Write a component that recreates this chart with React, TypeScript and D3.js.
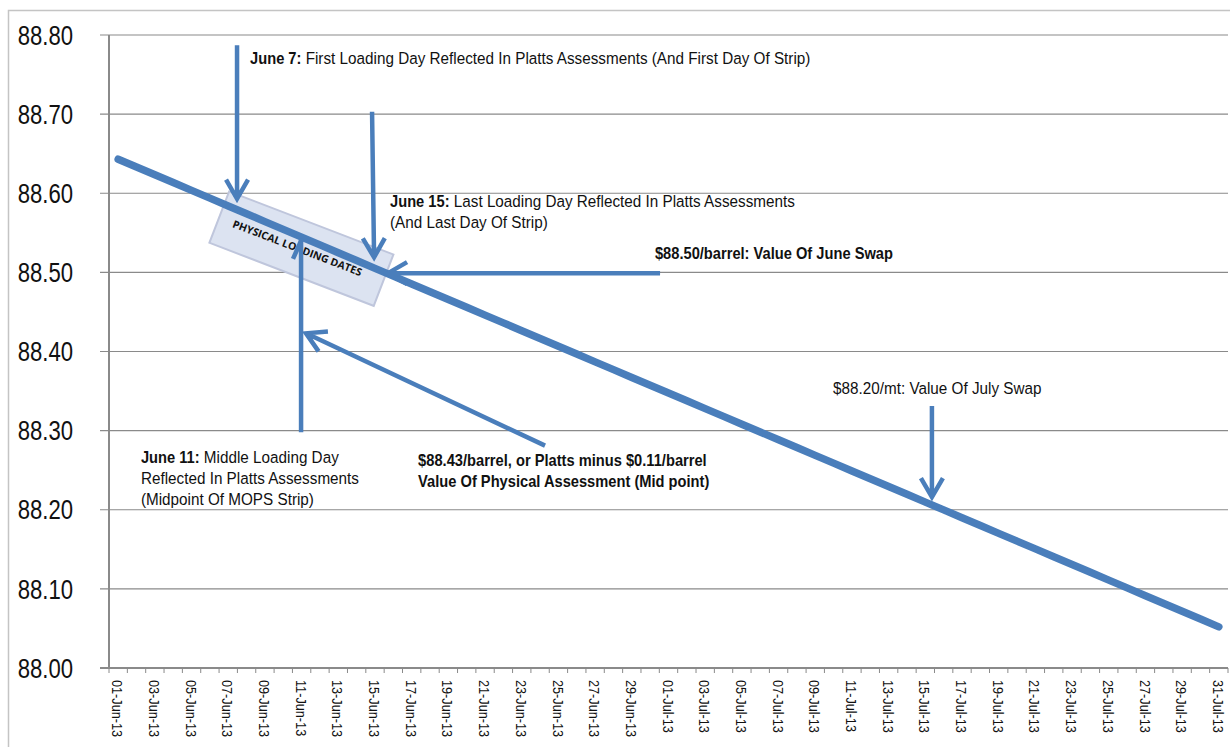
import * as d3 from "d3";

// categories: every day shown on the axis
const dates = [
  "01-Jun-13", "02-Jun-13", "03-Jun-13", "04-Jun-13", "05-Jun-13", "06-Jun-13", "07-Jun-13", "08-Jun-13",
  "09-Jun-13", "10-Jun-13", "11-Jun-13", "12-Jun-13", "13-Jun-13", "14-Jun-13", "15-Jun-13", "16-Jun-13",
  "17-Jun-13", "18-Jun-13", "19-Jun-13", "20-Jun-13", "21-Jun-13", "22-Jun-13", "23-Jun-13", "24-Jun-13",
  "25-Jun-13", "26-Jun-13", "27-Jun-13", "28-Jun-13", "29-Jun-13", "30-Jun-13",
  "01-Jul-13", "02-Jul-13", "03-Jul-13", "04-Jul-13", "05-Jul-13", "06-Jul-13", "07-Jul-13", "08-Jul-13",
  "09-Jul-13", "10-Jul-13", "11-Jul-13", "12-Jul-13", "13-Jul-13", "14-Jul-13", "15-Jul-13", "16-Jul-13",
  "17-Jul-13", "18-Jul-13", "19-Jul-13", "20-Jul-13", "21-Jul-13", "22-Jul-13", "23-Jul-13", "24-Jul-13",
  "25-Jul-13", "26-Jul-13", "27-Jul-13", "28-Jul-13", "29-Jul-13", "30-Jul-13", "31-Jul-13",
];

// forward curve values
const prices = [
  88.643, 88.6332, 88.6233, 88.6135, 88.6036, 88.5938, 88.5839, 88.5741, 88.5642, 88.5544,
  88.5445, 88.5347, 88.5248, 88.515, 88.5051, 88.4953, 88.4854, 88.4756, 88.4657, 88.4559,
  88.446, 88.4362, 88.4263, 88.4165, 88.4066, 88.3968, 88.3869, 88.3771, 88.3672, 88.3574,
  88.3475, 88.3377, 88.3278, 88.318, 88.3081, 88.2983, 88.2884, 88.2786, 88.2687, 88.2589,
  88.249, 88.2392, 88.2293, 88.2195, 88.2096, 88.1998, 88.1899, 88.1801, 88.1702, 88.1604,
  88.1505, 88.1407, 88.1308, 88.121, 88.1111, 88.1013, 88.0914, 88.0816, 88.0717, 88.0619,
  88.052,
];

const yTicks = [88.0, 88.1, 88.2, 88.3, 88.4, 88.5, 88.6, 88.7, 88.8];
const yTickLabels = ["88.00", "88.10", "88.20", "88.30", "88.40", "88.50", "88.60", "88.70", "88.80"];

// annotation arrows, in (category index, price)
const arrows = [
  { from: [6.48, 88.787], to: [6.48, 88.593], head: true },
  { from: [13.84, 88.703], to: [13.95, 88.519], head: true },
  { from: [29.54, 88.499], to: [14.71, 88.499], head: true },
  { from: [9.97, 88.298], to: [9.97, 88.543], head: false },
  { from: [9.97, 88.54], to: [9.53, 88.517], head: false },
  { from: [23.27, 88.281], to: [10.24, 88.423], head: true },
  { from: [44.36, 88.331], to: [44.36, 88.216], head: true },
];

const notes = [
  { i: 7.19, v: 88.763, b: "June 7:", t: " First Loading Day Reflected In Platts Assessments (And First Day Of Strip)" },
  { i: 14.82, v: 88.583, b: "June 15:", t: " Last Loading Day Reflected In Platts Assessments" },
  { i: 14.82, v: 88.556, b: "", t: "(And Last Day Of Strip)" },
  { i: 29.26, v: 88.517, b: "$88.50/barrel: Value Of June Swap", t: "" },
  { i: 1.24, v: 88.259, b: "June 11:", t: " Middle Loading Day" },
  { i: 1.24, v: 88.233, b: "", t: "Reflected In Platts Assessments" },
  { i: 1.24, v: 88.206, b: "", t: "(Midpoint Of MOPS Strip)" },
  { i: 16.35, v: 88.255, b: "$88.43/barrel, or Platts minus $0.11/barrel", t: "" },
  { i: 16.35, v: 88.229, b: "Value Of Physical Assessment (Mid point)", t: "" },
  { i: 38.97, v: 88.346, b: "", t: "$88.20/mt: Value Of July Swap" },
];

const loadingBox = { i: 9.99, v: 88.53, label: "PHYSICAL LOADING DATES" };

// Arial-metric font squeezed to look like a condensed face
const FONT = "'Liberation Sans', Arial, sans-serif";
const NARROW = 0.82;
const NOTE_SCALE = 0.917;
const BLUE = "#4a7ebb";

function arrowPath(tx: number, ty: number, hx: number, hy: number, head: boolean) {
  let d = `M${tx},${ty}L${hx},${hy}`;
  if (!head) return d;
  const a = Math.atan2(ty - hy, tx - hx);
  const r = (30 * Math.PI) / 180;
  const len = 22;
  const p1 = [hx + len * Math.cos(a + r), hy + len * Math.sin(a + r)];
  const p2 = [hx + len * Math.cos(a - r), hy + len * Math.sin(a - r)];
  d += `M${p1[0]},${p1[1]}L${hx},${hy}L${p2[0]},${p2[1]}`;
  return d;
}

export default function App() {
  const width = 1230;
  const height = 747;
  const left = 109;
  const right = 1228;
  const top = 35;
  const bottom = 668;

  const x = d3.scaleBand().domain(dates).range([left, right]).padding(0);
  const xi = d3.scaleLinear().domain([-0.5, dates.length - 0.5]).range([left, right]);
  const y = d3.scaleLinear().domain([88, 88.8]).range([bottom, top]);
  const bw = x.bandwidth();

  const line = d3
    .line<number>()
    .x((_, i) => (x(dates[i]) as number) + bw / 2)
    .y((d) => y(d));

  const tickEdges = d3.range(dates.length + 1).map((k) => left + k * bw);
  const angle = 21;

  return (
    <svg width={width} height={height} style={{ position: "absolute", left: 0, top: 0 }}>
      <rect x={8.5} y={10.5} width={1240} height={800} fill="white" stroke="#c4c4c4" strokeWidth={1.5} />

      {/* grid */}
      {yTicks.map((t, k) => (
        <g key={k}>
          <line x1={left - 9} x2={right} y1={y(t)} y2={y(t)} stroke="#8a8a8a" strokeWidth={k === 0 ? 2 : 1.2} />
          <g transform={`translate(73,${y(t)}) scale(${NARROW},1)`}>
            <text dy="0.36em" textAnchor="end" fontFamily={FONT} fontSize={27} fill="#111">
              {yTickLabels[k]}
            </text>
          </g>
        </g>
      ))}
      <line x1={left} x2={left} y1={top} y2={bottom} stroke="#8a8a8a" strokeWidth={2} />

      {/* x ticks and labels */}
      {tickEdges.map((e, k) => (
        <line key={k} x1={e} x2={e} y1={bottom} y2={bottom + 5} stroke="#8a8a8a" strokeWidth={1} />
      ))}
      {dates.map((d, k) =>
        k % 2 === 0 ? (
          <text
            key={d}
            transform={`translate(${(x(d) as number) + bw / 2 - 0.5},${bottom + 12}) rotate(90) scale(${NARROW},1)`}
            dy="0.35em"
            fontFamily={FONT}
            fontSize={15.5}
            fill="#111"
          >
            {d}
          </text>
        ) : null
      )}

      {/* physical loading dates box */}
      <g transform={`translate(${xi(loadingBox.i)},${y(loadingBox.v)}) rotate(${angle})`}>
        <rect x={-88} y={-27.5} width={176} height={55} fill="#dce3f1" stroke="#bfc6dc" strokeWidth={2} />
        <text
          x={-4}
          y={1}
          dy="0.35em"
          textAnchor="middle"
          fontFamily="'Open Sans', sans-serif"
          fontWeight={700}
          fontSize={10.5}
          fill="#111"
        >
          {loadingBox.label}
        </text>
      </g>

      {/* curve */}
      <path
        d={line(prices) ?? ""}
        fill="none"
        stroke={BLUE}
        strokeWidth={7.5}
        strokeLinecap="round"
        strokeLinejoin="round"
      />

      {/* arrows */}
      {arrows.map((a, k) => (
        <path
          key={k}
          d={arrowPath(xi(a.from[0]), y(a.from[1]), xi(a.to[0]), y(a.to[1]), a.head)}
          fill="none"
          stroke={BLUE}
          strokeWidth={4.5}
          strokeLinecap="butt"
          strokeLinejoin="miter"
        />
      ))}

      {/* notes */}
      {notes.map((n, k) => (
        <g key={k} transform={`translate(${xi(n.i)},${y(n.v)}) scale(${NOTE_SCALE},1)`}>
          <text fontFamily={FONT} fontSize={16} fill="#111">
            {n.b ? <tspan fontWeight="bold">{n.b}</tspan> : null}
            {n.t ? <tspan fontSize={16.65}>{n.t}</tspan> : null}
          </text>
        </g>
      ))}
    </svg>
  );
}
